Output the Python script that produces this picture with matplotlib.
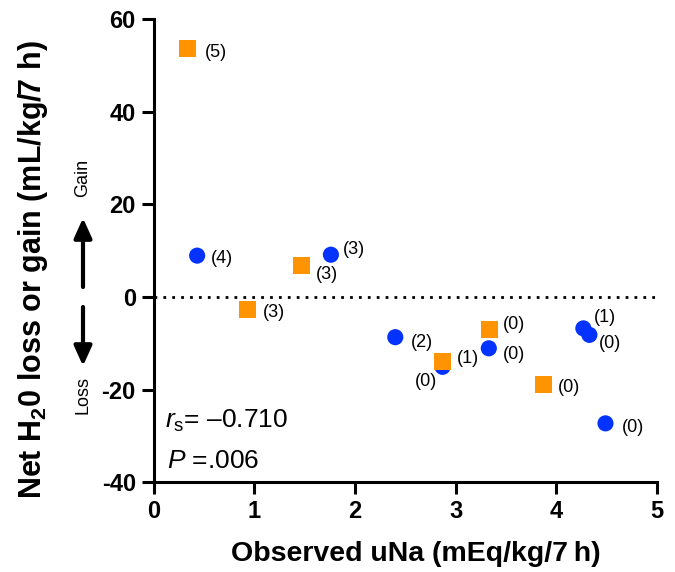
import matplotlib
matplotlib.use("Agg")
import matplotlib.pyplot as plt
from matplotlib.patches import FancyArrowPatch

plt.rcParams["font.family"] = ["Liberation Sans", "DejaVu Sans"]
plt.rcParams["mathtext.fontset"] = "custom"
plt.rcParams["mathtext.rm"] = "Liberation Sans"
plt.rcParams["mathtext.it"] = "Liberation Sans:italic"
plt.rcParams["mathtext.bf"] = "Liberation Sans:bold"
plt.rcParams["axes.unicode_minus"] = False

# Orange squares
sq_x = [0.33, 1.47, 0.93, 2.87, 3.34, 3.87]
sq_y = [53.6, 6.7, -2.8, -14.0, -7.1, -19.0]
sq_n = ["(5)", "(3)", "(3)", "(1)", "(0)", "(0)"]
sq_off = [(18, -4), (14, -9), (15, -3), (14, 3), (13, 5), (15, -3)]

# Blue circles
ci_x = [0.43, 1.76, 2.40, 2.87, 3.33, 4.27, 4.33, 4.49]
ci_y = [8.9, 9.1, -8.7, -15.1, -11.1, -6.8, -8.2, -27.3]
ci_n = ["(4)", "(3)", "(2)", "(0)", "(0)", "(1)", "(0)", "(0)"]
ci_off = [(14, -3), (12, 5), (16, -5), (-28, -15), (14, -6), (11, 11), (9, -9), (16, -4)]

blue = "#0433FF"
orange = "#FF9300"

fig = plt.figure(figsize=(6.75, 5.72), dpi=100)
ax = fig.add_axes([0.228, 0.157, 0.745, 0.81])

ax.axhline(0, color="black", lw=2, ls=(0, (1, 2.2)), zorder=1)

ax.scatter(ci_x, ci_y, s=135, marker="o", color=blue, edgecolors="none", zorder=3)
ax.scatter(sq_x, sq_y, s=150, marker="s", color=orange, edgecolors="none", zorder=4)

for x, y, n, off in zip(ci_x, ci_y, ci_n, ci_off):
    ax.annotate(n, (x, y), xytext=off, textcoords="offset pixels",
                fontsize=13, va="center", ha="left", zorder=5)
for x, y, n, off in zip(sq_x, sq_y, sq_n, sq_off):
    ax.annotate(n, (x, y), xytext=off, textcoords="offset pixels",
                fontsize=13, va="center", ha="left", zorder=5)

ax.set_xlim(0, 5)
ax.set_ylim(-40, 60)
ax.set_xticks([0, 1, 2, 3, 4, 5])
ax.set_yticks([-40, -20, 0, 20, 40, 60])

for side in ["top", "right"]:
    ax.spines[side].set_visible(False)
for side in ["left", "bottom"]:
    ax.spines[side].set_linewidth(2.2)

ax.tick_params(width=2.2, length=8.5, labelsize=17, pad=4.5)
for lab in ax.get_xticklabels() + ax.get_yticklabels():
    lab.set_fontweight("bold")

# axis titles placed by hand
fig.text(416 / 675, 1 - 561 / 572, "Observed uNa (mEq/kg/7\u2009h)", fontsize=20.5,
         fontweight="bold", ha="center", va="baseline")
fig.text(33 / 675, 1 - 270 / 572, r"Net H$_\mathbf{2}$0 loss or gain (mL/kg/7 h)",
         fontsize=22, fontweight="bold", rotation=90, ha="center", va="center")

ax.text(0.11, -28.3, "$r_\\mathrm{s}$= \u20130.710", fontsize=19, va="baseline")
ax.text(0.13, -36.9, "$P$ =.006", fontsize=19, va="baseline")

# Gain / Loss arrows beside the y axis
ax_x = 83 / 675
fig.text(ax_x, 1 - 178 / 572, "Gain", rotation=90, fontsize=13, ha="center", va="center")
fig.text(ax_x, 1 - 395 / 572, "Loss", rotation=90, fontsize=13, ha="center", va="center")
style = "-|>,head_length=0.4,head_width=0.18"
fig.add_artist(FancyArrowPatch((ax_x, 1 - 287 / 572), (ax_x, 1 - 218 / 572),
                               transform=fig.transFigure, arrowstyle=style,
                               mutation_scale=30, lw=3, color="black",
                               shrinkA=0, shrinkB=0))
fig.add_artist(FancyArrowPatch((ax_x, 1 - 307 / 572), (ax_x, 1 - 366 / 572),
                               transform=fig.transFigure, arrowstyle=style,
                               mutation_scale=30, lw=3, color="black",
                               shrinkA=0, shrinkB=0))

fig.savefig("out.png", dpi=100)
